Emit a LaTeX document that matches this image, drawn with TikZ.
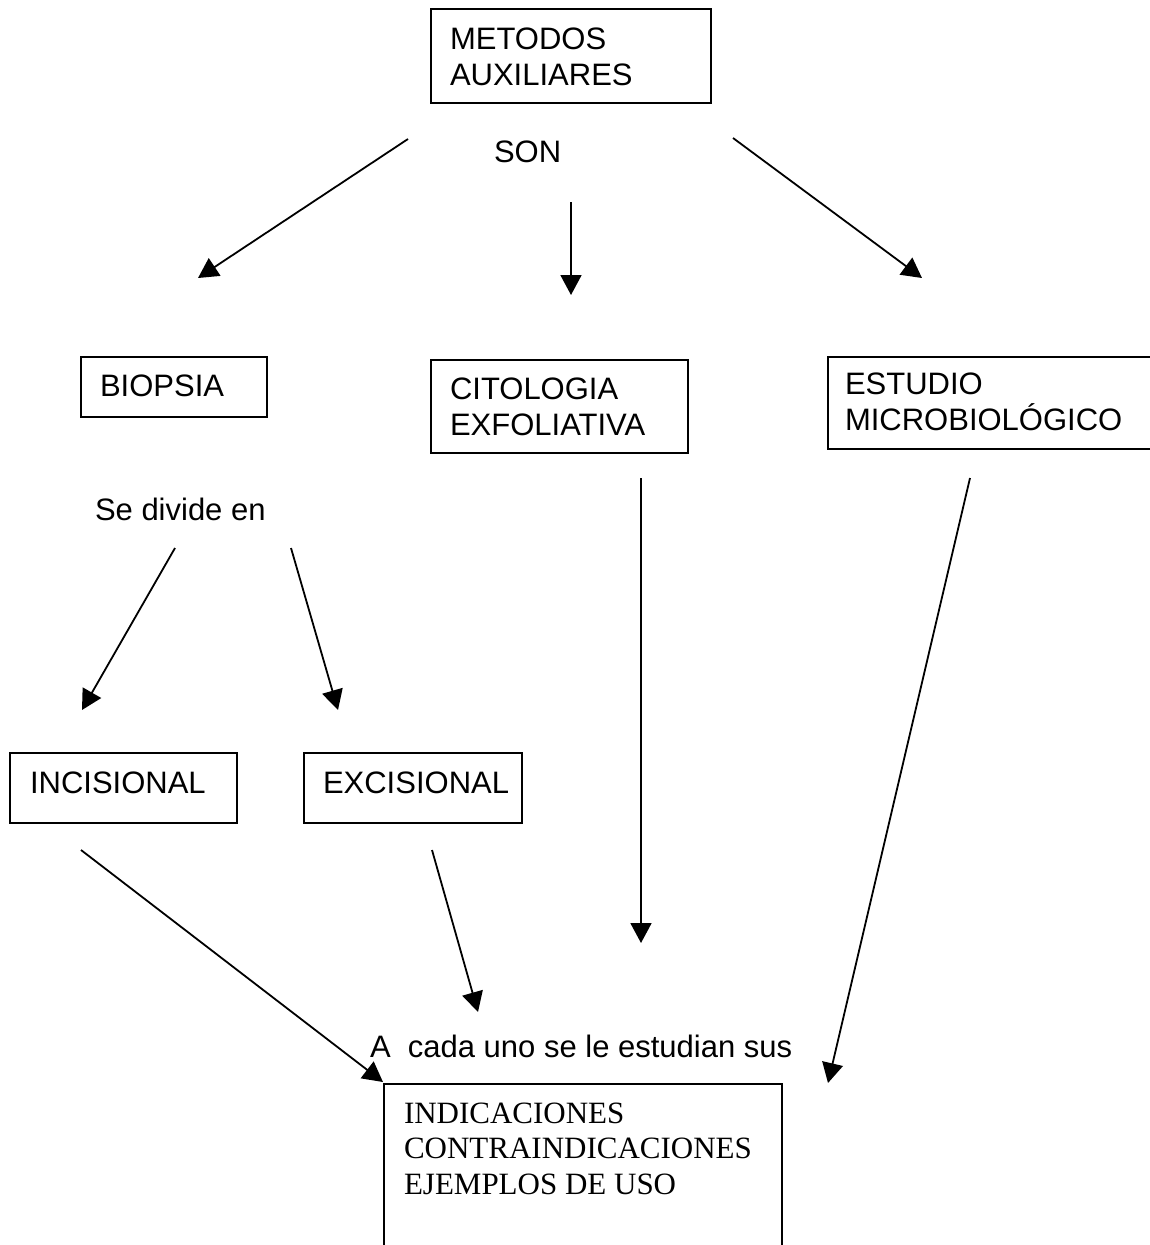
\documentclass[tikz,border=0pt]{standalone}
\usepackage{fontspec}
\setmainfont{Liberation Sans}
\newfontfamily\serifface{Liberation Serif}
\usetikzlibrary{arrows.meta}

\tikzset{
  box/.style={draw, line width=1.7pt, rectangle, inner sep=0pt, outer sep=0pt, anchor=north west},
  lbl/.style={anchor=base west, inner sep=0pt, outer sep=0pt, font=\fontsize{31}{35.5}\selectfont, align=left},
  link/.style={line width=1.8pt, -{Triangle[length=20pt,width=21pt]}},
}

\begin{document}
\begin{tikzpicture}[x=1pt,y=-1pt]
\useasboundingbox (0,0) rectangle (1150,1245);
\clip (0,0) rectangle (1150,1245);

% boxes
\node[box, minimum width=280pt, minimum height=94pt]  (metodos)    at (431,9)    {};
\node[box, minimum width=186pt, minimum height=60pt]  (biopsia)    at (81,357)   {};
\node[box, minimum width=257pt, minimum height=93pt]  (citologia)  at (431,360)  {};
\node[box, minimum width=330pt, minimum height=92pt]  (estudio)    at (828,357)  {};
\node[box, minimum width=227pt, minimum height=70pt]  (incisional) at (10,753)   {};
\node[box, minimum width=218pt, minimum height=70pt]  (excisional) at (304,753)  {};
\node[box, minimum width=398pt, minimum height=180pt] (resumen)    at (384,1084) {};

% texts (multi-line labels are placed by the baseline of their last line)
\node[lbl] (tmetodos)   at (450,85)   {METODOS\\AUXILIARES};
\node[lbl] (tson)       at (494,162)  {SON};
\node[lbl] (tbiopsia)   at (100,396)  {BIOPSIA};
\node[lbl] (tcitologia) at (450,435)  {CITOLOGIA\\EXFOLIATIVA};
\node[lbl] (testudio)   at (845,430)  {ESTUDIO\\MICROBIOL\'OGICO};
\node[lbl] (tdivide)    at (95,520)   {Se divide en};
\node[lbl] (tincis)     at (30,793)   {INCISIONAL};
\node[lbl] (texcis)     at (323,793)  {EXCISIONAL};
\node[lbl] (tcada)      at (370,1057) {A\ \ cada uno se le estudian sus};
\node[lbl, font=\serifface\fontsize{31}{35.5}\selectfont] (tresumen) at (404,1194)
  {INDICACIONES\\CONTRAINDICACIONES\\EJEMPLOS DE USO};

% connector end points
\coordinate (s1) at (408,139);  \coordinate (e1) at (198,278);
\coordinate (s2) at (571,202);  \coordinate (e2) at (571,295);
\coordinate (s3) at (733,138);  \coordinate (e3) at (922,278);
\coordinate (s4) at (175,548);  \coordinate (e4) at (82,710);
\coordinate (s5) at (291,548);  \coordinate (e5) at (338,710);
\coordinate (s6) at (641,478);  \coordinate (e6) at (641,943);
\coordinate (s7) at (970,478);  \coordinate (e7) at (828,1083);
\coordinate (s8) at (81,850);   \coordinate (e8) at (383,1082);
\coordinate (s9) at (432,850);  \coordinate (e9) at (478,1012);

% connectors
\draw[link] (s1) -- (e1);
\draw[link] (s2) -- (e2);
\draw[link] (s3) -- (e3);
\draw[link] (s4) -- (e4);
\draw[link] (s5) -- (e5);
\draw[link] (s6) -- (e6);
\draw[link] (s7) -- (e7);
\draw[link] (s8) -- (e8);
\draw[link] (s9) -- (e9);
\end{tikzpicture}
\end{document}
